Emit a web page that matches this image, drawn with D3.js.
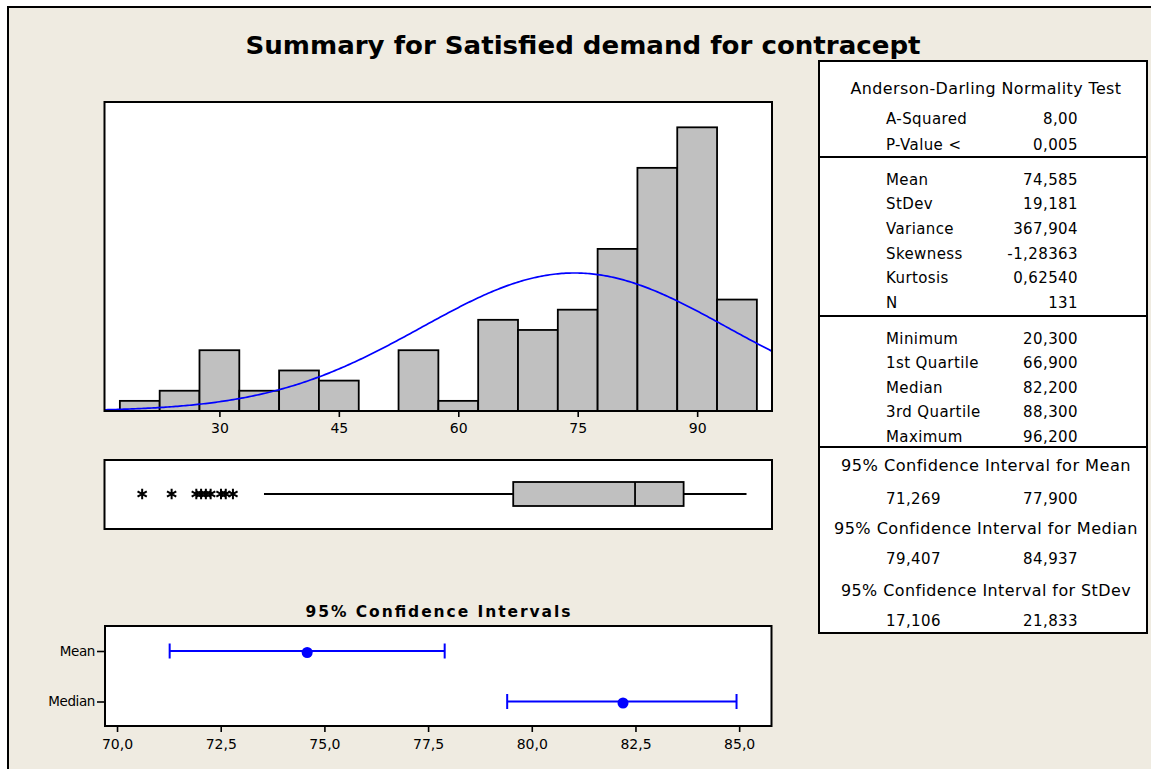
<!DOCTYPE html>
<html><head><meta charset="utf-8">
<script src="https://cdn.jsdelivr.net/npm/d3@7"></script>
<style>
html,body{margin:0;padding:0;background:#fff;}
svg{display:block;}
text{font-family:"DejaVu Sans",Verdana,sans-serif;fill:#000;}
</style></head>
<body>
<svg id="chart" width="1151" height="769"></svg>
<script>
// ---------- data ----------
const chartTitle = "Summary for Satisfied demand for contracept";
const binCenters = [20,25,30,35,40,45,50,55,60,65,70,75,80,85,90,95];
const binCounts  = [1,2,6,2,4,3,0,6,1,9,8,10,16,24,28,11];
const binWidth = 5;
const histTicks = [30,45,60,75,90];
const meanValue = 74.585;
const stdevValue = 19.181;
const nValue = 131;
const boxStats = [20.3, 66.9, 82.2, 88.3, 96.2]; // min, Q1, median, Q3, max
const lowerWhisker = 35.6;
const upperWhisker = 96.2;
const outliers = [20.3, 24.0, 27.1, 27.7, 28.3, 28.9, 30.2, 30.8, 31.7];
const ciLabels = ["Mean", "Median"];
const ciCenters = [74.585, 82.2];
const ciLows = [71.269, 79.407];
const ciHighs = [77.9, 84.937];
const ciTicks = [70, 72.5, 75, 77.5, 80, 82.5, 85];
const ciTitle = "95% Confidence Intervals";
const adTitle = "Anderson-Darling Normality Test";
const adLabels = ["A-Squared", "P-Value <"];
const adValues = ["8,00", "0,005"];
const momentLabels = ["Mean", "StDev", "Variance", "Skewness", "Kurtosis", "N"];
const momentValues = ["74,585", "19,181", "367,904", "-1,28363", "0,62540", "131"];
const quantLabels = ["Minimum", "1st Quartile", "Median", "3rd Quartile", "Maximum"];
const quantValues = ["20,300", "66,900", "82,200", "88,300", "96,200"];
const ciTableTitles = ["95% Confidence Interval for Mean", "95% Confidence Interval for Median", "95% Confidence Interval for StDev"];
const ciTableLows = ["71,269", "79,407", "17,106"];
const ciTableHighs = ["77,900", "84,937", "21,833"];

// ---------- drawing ----------
const FONT = "DejaVu Sans, Verdana, sans-serif";
const svg = d3.select("#chart");
const BG = "#efebe1";
svg.append("rect").attr("x",0).attr("y",0).attr("width",1151).attr("height",769).attr("fill","#fff");
svg.append("rect").attr("x",8).attr("y",7).attr("width",1200).attr("height",800)
  .attr("fill",BG).attr("stroke","#000").attr("stroke-width",2);

svg.append("text").attr("x",583).attr("y",54).attr("text-anchor","middle")
  .attr("font-size",24).attr("font-weight","bold")
  .attr("textLength",675).attr("lengthAdjust","spacingAndGlyphs")
  .text(chartTitle);

// Histogram
const hx0 = 104.5, hx1 = 772, hy0 = 102, hy1 = 411;
const x = d3.scaleLinear().domain([15.57, 99.4]).range([hx0, hx1]);
const y = d3.scaleLinear().domain([0, 30.5]).range([hy1, hy0]);

svg.append("rect").attr("x",hx0).attr("y",hy0).attr("width",hx1-hx0).attr("height",hy1-hy0)
  .attr("fill","#fff");
svg.append("defs").append("clipPath").attr("id","hclip")
  .append("rect").attr("x",hx0).attr("y",hy0).attr("width",hx1-hx0).attr("height",hy1-hy0);

svg.append("g").selectAll("rect").data(binCenters.map((c,i)=>({c, n:binCounts[i]})).filter(d=>d.n>0))
  .join("rect")
  .attr("x", d => x(d.c - binWidth/2))
  .attr("width", d => x(d.c + binWidth/2) - x(d.c - binWidth/2))
  .attr("y", d => y(d.n))
  .attr("height", d => y(0) - y(d.n))
  .attr("fill","#c0c0c0").attr("stroke","#000").attr("stroke-width",1.8);

// fitted normal curve from mean / stdev
const curvePts = d3.range(15.5, 99.6, 0.25).map(v => {
  const z = (v - meanValue) / stdevValue;
  return [v, nValue * binWidth / (stdevValue * Math.sqrt(2*Math.PI)) * Math.exp(-0.5*z*z)];
});
svg.append("path").datum(curvePts).attr("clip-path","url(#hclip)")
  .attr("d", d3.line().x(d=>x(d[0])).y(d=>y(d[1])))
  .attr("fill","none").attr("stroke","#0000ff").attr("stroke-width",1.7);

svg.append("rect").attr("x",hx0).attr("y",hy0).attr("width",hx1-hx0).attr("height",hy1-hy0)
  .attr("fill","none").attr("stroke","#000").attr("stroke-width",2);

function styleAxis(g, fs) {
  g.attr("font-size", fs).attr("font-family", FONT);
  g.select(".domain").remove();
  g.selectAll(".tick line").attr("stroke","#000").attr("stroke-width",1.6);
  g.selectAll(".tick text").attr("font-size",fs).attr("font-family",FONT).attr("fill","#000");
}
const hAxis = svg.append("g").attr("transform",`translate(0,${hy1})`)
  .call(d3.axisBottom(x).tickValues(histTicks).tickSize(6).tickSizeOuter(0).tickPadding(6));
styleAxis(hAxis, 14);

// Boxplot
const by0 = 460, by1 = 529;
svg.append("rect").attr("x",hx0).attr("y",by0).attr("width",hx1-hx0).attr("height",by1-by0)
  .attr("fill","#fff").attr("stroke","#000").attr("stroke-width",2);
const bmid = 494, bh = 24;
svg.append("line").attr("x1",x(lowerWhisker)).attr("x2",x(boxStats[1])).attr("y1",bmid).attr("y2",bmid)
  .attr("stroke","#000").attr("stroke-width",2);
svg.append("line").attr("x1",x(boxStats[3])).attr("x2",x(upperWhisker)).attr("y1",bmid).attr("y2",bmid)
  .attr("stroke","#000").attr("stroke-width",2);
svg.append("rect").attr("x",x(boxStats[1])).attr("y",bmid-bh/2).attr("width",x(boxStats[3])-x(boxStats[1]))
  .attr("height",bh).attr("fill","#c0c0c0").attr("stroke","#000").attr("stroke-width",1.8);
svg.append("line").attr("x1",x(boxStats[2])).attr("x2",x(boxStats[2])).attr("y1",bmid-bh/2).attr("y2",bmid+bh/2)
  .attr("stroke","#000").attr("stroke-width",1.8);
svg.append("g").selectAll("path").data(outliers).join("path")
  .attr("transform", d => `translate(${x(d)},${bmid})`)
  .attr("d", d3.symbol().type(d3.symbolAsterisk).size(80))
  .attr("fill","none").attr("stroke","#000").attr("stroke-width",2);

// CI plot
svg.append("text").attr("x",438).attr("y",617).attr("text-anchor","middle")
  .attr("font-size",15.5).attr("font-weight","bold")
  .attr("textLength",265).attr("lengthAdjust","spacing")
  .text(ciTitle);
const cx0 = 105, cx1 = 771.5, cy0 = 626, cy1 = 726;
const cx = d3.scaleLinear().domain([69.71, 85.78]).range([cx0, cx1]);
const cy = d3.scalePoint().domain(ciLabels).range([651, 701.5]);
svg.append("rect").attr("x",cx0).attr("y",cy0).attr("width",cx1-cx0).attr("height",cy1-cy0)
  .attr("fill","#fff").attr("stroke","#000").attr("stroke-width",2);

const ciG = svg.append("g");
ciLabels.forEach((lab,i) => {
  const yy = cy(lab);
  ciG.append("line").attr("x1",cx(ciLows[i])).attr("x2",cx(ciHighs[i])).attr("y1",yy).attr("y2",yy)
    .attr("stroke","#0000ff").attr("stroke-width",2);
  [ciLows[i], ciHighs[i]].forEach(v => ciG.append("line").attr("x1",cx(v)).attr("x2",cx(v))
    .attr("y1",yy-7.5).attr("y2",yy+7.5).attr("stroke","#0000ff").attr("stroke-width",2));
  ciG.append("circle").attr("cx",cx(ciCenters[i])).attr("cy",yy+1.5).attr("r",5.5).attr("fill","#0000ff");
});

const commaFmt = v => d3.format(".1f")(v).replace(".", ",");
const cAxis = svg.append("g").attr("transform",`translate(0,${cy1})`)
  .call(d3.axisBottom(cx).tickValues(ciTicks).tickFormat(commaFmt).tickSize(6).tickSizeOuter(0).tickPadding(7));
styleAxis(cAxis, 14);

const yAxis = svg.append("g").attr("transform",`translate(${cx0},0)`)
  .call(d3.axisLeft(cy).tickSize(8).tickSizeOuter(0).tickPadding(2));
styleAxis(yAxis, 13.5);
yAxis.selectAll(".tick text").attr("letter-spacing",-0.4);

// Stats table
const tx0 = 819, tx1 = 1147, ty0 = 61, ty1 = 633;
const tg = svg.append("g");
tg.append("rect").attr("x",tx0).attr("y",ty0).attr("width",tx1-tx0).attr("height",ty1-ty0)
  .attr("fill","#fff").attr("stroke","#000").attr("stroke-width",2);
[157, 316, 447].forEach(yy => tg.append("line").attr("x1",tx0).attr("x2",tx1).attr("y1",yy).attr("y2",yy)
  .attr("stroke","#000").attr("stroke-width",2));
const FS = 15, labX = 886, valX = 1078, tcx = 986;
const tText = (xx, yy, s, anchor, len) => {
  const t = tg.append("text").attr("x",xx).attr("y",yy+5.5).attr("font-size",FS)
    .attr("text-anchor",anchor).attr("letter-spacing",0.4).text(s);
  if (len) t.attr("textLength",len).attr("lengthAdjust","spacingAndGlyphs");
  return t;
};
tText(tcx, 88.3, adTitle, "middle", 271);
const adY = [118.3, 144.3];
adLabels.forEach((l,i) => { tText(labX, adY[i], l, "start"); tText(valX, adY[i], adValues[i], "end"); });
const momY = [179.3, 203.3, 228.3, 253.3, 277.7, 302.3];
momentLabels.forEach((l,i) => { tText(labX, momY[i], l, "start"); tText(valX, momY[i], momentValues[i], "end"); });
const qY = [338.3, 362.7, 387.7, 411.7, 436];
quantLabels.forEach((l,i) => { tText(labX, qY[i], l, "start"); tText(valX, qY[i], quantValues[i], "end"); });
const ciTY = [465.7, 528.3, 590], ciVY = [498.3, 558.3, 620];
const ciTLen = [290, 304, 290];
ciTableTitles.forEach((l,i) => {
  tText(tcx, ciTY[i], l, "middle", ciTLen[i]);
  tText(labX, ciVY[i], ciTableLows[i], "start");
  tText(valX, ciVY[i], ciTableHighs[i], "end");
});
</script>
</body></html>
